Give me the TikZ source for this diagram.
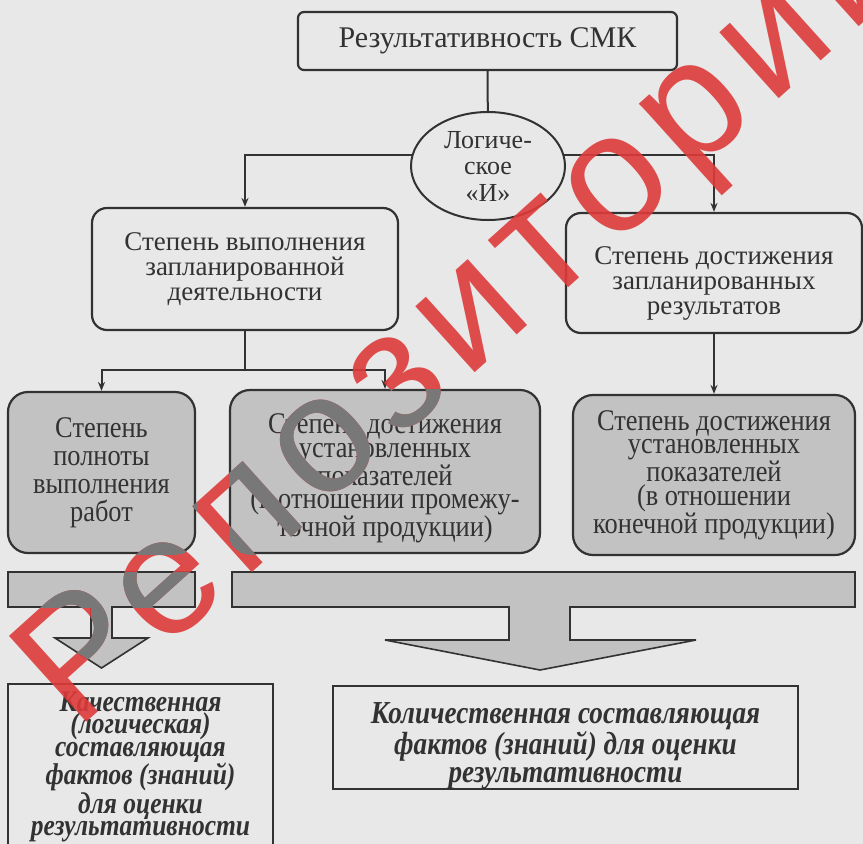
\documentclass[tikz,border=0pt]{standalone}
\usepackage{fontspec}
\setmainfont{Liberation Serif}
\newfontfamily\narrowserif[FakeStretch=0.88]{Liberation Serif}
\newfontfamily\narrowbold[FakeStretch=0.85]{Liberation Serif}
\newfontfamily\stampfont[LetterSpace=8]{Liberation Sans}
\usetikzlibrary{arrows.meta,calc,positioning,shapes.geometric}
\definecolor{pagegray}{RGB}{232,232,232}
\definecolor{boxgray}{RGB}{194,194,194}
\definecolor{ink}{RGB}{50,50,50}
\definecolor{stampred}{RGB}{222,58,58}
\definecolor{stampgray}{RGB}{120,120,120}

\begin{document}
\begin{tikzpicture}[x=1pt, y=-1pt,
    every node/.style={text=ink, align=center},
    plainbox/.style={draw=ink, line width=2.2pt, rounded corners=15pt, inner sep=0pt,
        font=\fontsize{27}{25}\selectfont},
    graybox/.style={plainbox, fill=boxgray, rounded corners=20pt,
        font=\narrowserif\fontsize{30}{23.5}\selectfont},
    factbox/.style={draw=ink, line width=1.6pt, inner sep=0pt},
    link/.style={draw=ink, line width=2pt},
    arr/.style={link, -{Stealth[length=9pt, width=7pt]}},
    blockarrow/.style={fill=boxgray, draw=ink, line width=1.6pt, line join=miter},
    stamp/.style={font=\stampfont\fontsize{168}{168}\selectfont, rotate=42, inner sep=0pt}]
    \useasboundingbox (0,0) rectangle (863,844);
    \fill[pagegray] (0,0) rectangle (863,844);

    % upper part
    \node[plainbox, rounded corners=6pt, minimum width=379pt, minimum height=58pt,
        font=\fontsize{30}{30}\selectfont] (top) at (487.5,41) {Результативность СМК};
    \node[draw=ink, line width=2pt, ellipse, minimum width=154pt, minimum height=108pt,
        inner sep=0pt, font=\fontsize{26}{26.5}\selectfont] (logic) at (488,166) {Логиче-\\ское\\«И»};
    \node[plainbox, minimum width=306pt, minimum height=122pt] (plan) at (245,269)
        {Степень выполнения\\запланированной\\деятельности};
    \node[plainbox, minimum width=296pt, minimum height=120pt] (result) at (714,273)
        {\rule{0pt}{38pt}Степень достижения\\запланированных\\результатов};

    % gray boxes
    \node[graybox, minimum width=187pt, minimum height=161pt,
        font=\narrowserif\fontsize{30}{28}\selectfont] (full) at (101.5,472.5)
        {Степень\\полноты\\выполнения\\работ};
    \node[graybox, minimum width=310pt, minimum height=163pt] (inter) at (385,471.5)
        {\rule{0pt}{34pt}Степень достижения\\установленных\\показателей\\(в отношении промежу-\\точной продукции)};
    \node[graybox, minimum width=282pt, minimum height=160pt] (final) at (714,475)
        {Степень достижения\\установленных\\показателей\\(в отношении\\конечной продукции)};

    \coordinate (split) at (245,370);
    \draw[link] (top) -- (logic);
    \draw[arr] (logic.172) -| (plan.north);
    \draw[arr] (logic.8) -| (result.north);
    \draw[link] (plan.south) -- (split);
    \draw[arr] (split) -| (full.north);
    \draw[arr] (split) -| (inter.north);
    \draw[arr] (result) -- (final);

    % bars with block arrows
    \def\leftbar{(8,572) -- (195,572) -- (195,607) -- (112,607) -- (112,638) -- (148,638)
        -- (101.5,668) -- (55,638) -- (91,638) -- (91,607) -- (8,607) -- cycle}
    \def\rightbar{(232,572) -- (855,572) -- (855,607) -- (570,607) -- (570,640) -- (696,640)
        -- (540,670) -- (385,640) -- (509,640) -- (509,607) -- (232,607) -- cycle}
    \draw[blockarrow] \leftbar;
    \draw[blockarrow] \rightbar;

    % bottom boxes
    \node[factbox, anchor=north, minimum width=265pt, minimum height=166pt,
        font=\narrowbold\bfseries\itshape\fontsize{30}{22.5}\selectfont] (quali) at (140.5,683)
        {Качественная\\(логическая)\\составляющая\\фактов (знаний)\\для оценки\\результативности};
    \node[factbox, minimum width=465pt, minimum height=99pt,
        font=\narrowbold\bfseries\itshape\fontsize{32}{28}\selectfont] (quant) at (565.5,737.5)
        {\rule{0pt}{38pt}Количественная составляющая\\фактов (знаний) для оценки\\результативности};

    % watermark
    \node[stamp, text=stampred, opacity=0.9] (stamp) at (468,318) {Репозиторий};
    \begin{scope}
        \clip[rounded corners=20pt] (full.south west) rectangle (full.north east)
            (inter.south west) rectangle (inter.north east)
            (final.south west) rectangle (final.north east)
            [sharp corners] \leftbar \rightbar;
        \node[stamp, text=stampgray] (stampshade) at (468,318) {Репозиторий};
    \end{scope}
\end{tikzpicture}
\end{document}
